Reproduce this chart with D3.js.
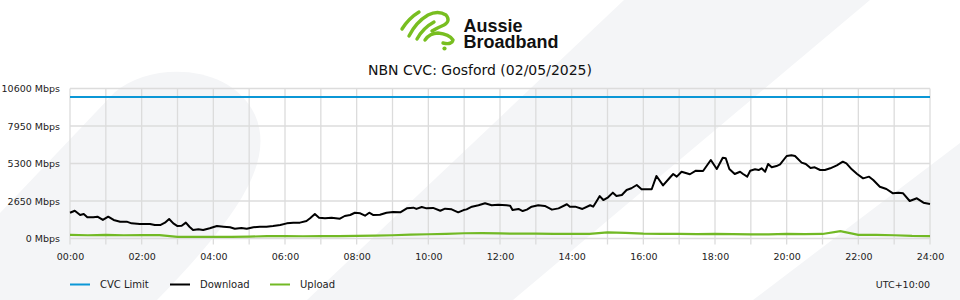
<!DOCTYPE html>
<html><head><meta charset="utf-8">
<script src="https://cdn.jsdelivr.net/npm/d3@7"></script>
<style>html,body{margin:0;padding:0;background:#fff;}svg{display:block;font-family:"DejaVu Sans",sans-serif;}</style>
</head><body><svg id="c" width="960" height="300"></svg>
<script>
// ---------- data ----------
const title = "NBN CVC: Gosford (02/05/2025)";
const yTicks = [0, 2650, 5300, 7950, 10600];
const xGridHours = [0,1,2,3,4,5,6,7,8,9,10,11,12,13,14,15,16,17,18,19,20,21,22,23,24];
const xLabelHours = [0,2,4,6,8,10,12,14,16,18,20,22,24];
const cvcLimit = 10000;
const downloadMinutes = [0,8,17,23,29,39,46,55,64,73,84,95,103,117,134,142,151,159,166,173,180,187,194,200,206,215,223,234,246,257,268,276,287,296,307,318,329,340,352,363,374,385,396,402,410,417,427,438,452,460,469,477,486,494,501,508,519,530,541,553,564,575,580,589,597,608,620,628,639,650,659,664,673,684,695,706,717,731,737,741,751,758,765,773,784,795,807,818,832,837,846,858,871,876,882,887,893,901,909,915,924,932,940,949,957,974,982,993,1005,1010,1016,1024,1038,1048,1060,1073,1083,1093,1098,1104,1113,1122,1127,1134,1139,1147,1153,1158,1164,1169,1175,1183,1189,1200,1208,1214,1225,1232,1240,1247,1256,1264,1273,1284,1294,1300,1309,1318,1328,1338,1345,1356,1367,1378,1387,1395,1406,1418,1429,1440];
const download = [1820,1960,1660,1730,1500,1500,1540,1310,1540,1310,1190,1190,1070,1030,1030,950,950,1120,1380,1070,880,900,1120,830,600,650,600,720,880,830,790,690,740,690,790,830,830,880,950,1070,1120,1120,1240,1430,1730,1470,1430,1470,1400,1590,1660,1820,1780,1610,1820,1660,1680,1820,1870,1850,2130,2180,2090,2230,2130,2160,1960,2110,2060,1850,2010,2060,2250,2350,2490,2350,2390,2350,2320,2010,2090,1940,2040,2250,2350,2300,2040,2130,2420,2250,2250,2090,2350,2250,2650,3000,2720,2910,3240,3000,3070,3430,3550,3780,3480,3480,4420,3750,4330,4560,4370,4720,4540,4790,4770,5550,4910,5710,5670,4910,4560,4720,4560,4370,4790,4890,4840,4960,4720,5270,5030,5120,5240,5830,5880,5830,5360,5270,4980,5030,4840,4840,4960,5170,5430,5310,4890,4560,4250,4370,4130,3660,3500,3190,3240,3190,2650,2840,2530,2440];
const uploadHours = [0,0.5,1,1.5,2,2.5,3,3.5,4,4.5,5,5.5,6,6.5,7,7.5,8,8.5,9,9.5,10,10.5,11,11.5,12,12.5,13,13.5,14,14.5,15,15.5,16,16.5,17,17.5,18,18.5,19,19.5,20,20.5,21,21.5,22,22.5,23,23.5,24];
const upload = [250,230,250,230,240,240,120,110,120,110,130,170,170,160,170,170,190,210,230,270,300,330,370,380,360,340,350,330,320,330,430,400,340,330,320,310,330,310,290,290,320,310,320,520,260,250,230,180,170];
const legendLabels = ["CVC Limit","Download","Upload"];
const colors = {cvc:"#0b97d6", download:"#000000", upload:"#72b925"};
const timezone = "UTC+10:00";

// ---------- drawing ----------
const svg = d3.select("#c");
const W = 960, H = 300;
const bgc = "#f4f5f7";
svg.append("rect").attr("width",W).attr("height",H).attr("fill","#fff");
svg.append("path").attr("fill",bgc).attr("d","M0,213 L115,92 C150,62 230,62 255,115 C275,160 240,215 157,300 L0,300 Z");
svg.append("path").attr("fill",bgc).attr("d","M624,0 L870,0 L513,300 L307,300 Z");
svg.append("path").attr("fill",bgc).attr("d","M960,143 L960,300 L753,300 Z");

// logo
const logo = svg.append("g").attr("fill","none").attr("stroke","#78be20").attr("stroke-width",3.4).attr("stroke-linecap","round").attr("stroke-linejoin","round");
logo.append("path").attr("d","M402,29 Q409,18 419,12");
logo.append("path").attr("d","M409,36 Q416,22 428,15 Q438,10 446,15 Q451,21 444,25 Q437,28 432,31");
logo.append("path").attr("d","M417,39 Q423,28 434,22");
logo.append("path").attr("d","M425,40 Q430,33 438,33 Q449,34 453,40 Q452,45 443,43");
svg.append("circle").attr("cx",444.5).attr("cy",48.5).attr("r",2.1).attr("fill","#78be20");
const lt = svg.append("text").attr("font-family","Liberation Sans, Arial, sans-serif").attr("font-weight","bold").attr("font-size",18).attr("fill","#111");
lt.append("tspan").attr("x",463.5).attr("y",31.7).text("Aussie");
lt.append("tspan").attr("x",463.5).attr("y",47.7).text("Broadband");

svg.append("text").attr("x",480).attr("y",75).attr("text-anchor","middle").attr("font-size",14).attr("fill","#111").text(title);

const x = d3.scaleLinear().domain([0,1440]).range([70,930]);
const y = d3.scaleLinear().domain([0,10600]).range([238.5,88.5]);

// grid
const grid = svg.append("g").attr("stroke","#dcdcdc").attr("stroke-width",1.3);
grid.selectAll(".h").data(yTicks).join("line").attr("x1",x(0)).attr("x2",x(1440)).attr("y1",d=>y(d)).attr("y2",d=>y(d));
grid.selectAll(".v").data(xGridHours).join("line").attr("x1",d=>x(d*60)).attr("x2",d=>x(d*60)).attr("y1",y(10600)).attr("y2",y(0)+6);

// axes labels
const yAxis = svg.append("g").attr("transform","translate(70,0)")
  .call(d3.axisLeft(y).tickValues(yTicks).tickFormat(d=>d+" Mbps").tickSize(0).tickPadding(10));
yAxis.select(".domain").remove();
yAxis.selectAll("text").attr("font-size",9.5).attr("font-family","DejaVu Sans").attr("fill","#222");

const pad = n => (n<10?"0":"")+n;
const xAxis = svg.append("g").attr("transform",`translate(0,${y(0)})`)
  .call(d3.axisBottom(x).tickValues(xLabelHours.map(h=>h*60)).tickFormat(m=>pad(m/60)+":00").tickSize(0).tickPadding(14.5));
xAxis.select(".domain").remove();
xAxis.selectAll("text").attr("font-size",9.5).attr("font-family","DejaVu Sans").attr("fill","#222");

// series
const line = d3.line().x(d=>x(d[0])).y(d=>y(d[1]));
svg.append("path").datum([[0,cvcLimit],[1440,cvcLimit]]).attr("d",line).attr("fill","none").attr("stroke",colors.cvc).attr("stroke-width",2);
svg.append("path").datum(uploadHours.map((h,i)=>[h*60,upload[i]])).attr("d",line).attr("fill","none").attr("stroke",colors.upload).attr("stroke-width",2.2);
svg.append("path").datum(downloadMinutes.map((m,i)=>[m,download[i]])).attr("d",line).attr("fill","none").attr("stroke",colors.download).attr("stroke-width",2).attr("stroke-linejoin","round");

// legend
const legCols = [colors.cvc, colors.download, colors.upload];
const leg = svg.append("g");
legendLabels.forEach((l,i)=>{
  const lx = 70 + i*100;
  leg.append("line").attr("x1",lx).attr("x2",lx+20).attr("y1",284.5).attr("y2",284.5).attr("stroke",legCols[i]).attr("stroke-width",2);
  leg.append("text").attr("x",lx+30).attr("y",288).attr("font-size",10).attr("fill","#222").text(l);
});
svg.append("text").attr("x",930).attr("y",288).attr("text-anchor","end").attr("font-size",9.5).attr("fill","#222").text(timezone);
</script></body></html>
